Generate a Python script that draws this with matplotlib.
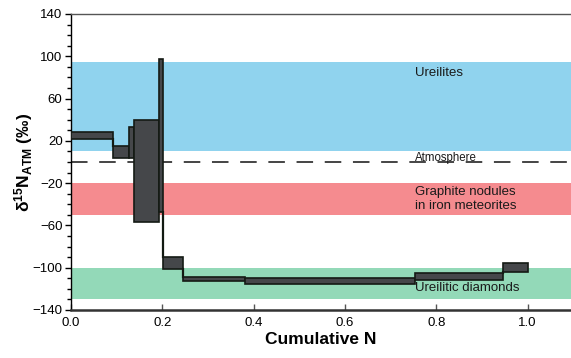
import matplotlib as mpl
mpl.use('agg')
import matplotlib.pyplot as plt
from matplotlib.patches import Rectangle
import numpy as np

plt.rcParams['font.family'] = ['Liberation Sans', 'DejaVu Sans']
plt.rcParams['mathtext.fontset'] = 'custom'
plt.rcParams['mathtext.rm'] = 'Liberation Sans'
plt.rcParams['mathtext.bf'] = 'Liberation Sans:bold'

# cumulative N step edges and the delta15N range of each step
x_edges = [0.0, 0.093, 0.128, 0.138, 0.193, 0.202, 0.245, 0.381, 0.753, 0.946, 1.0]
y_low = [22, 3.5, 4, -56.5, -47, -101, -113, -115.5, -112, -104]
y_high = [28, 15, 33.5, 39.5, 97.5, -90, -109, -110, -105, -96]

# reference fields
bands = [(10, 95, '#90d3ee'), (-50, -20, '#f58b8f'), (-130, -100, '#93d9b8')]
labels = [(0.753, 84, 'Ureilites', 9.5),
          (0.753, 4, 'Atmosphere', 8.3),
          (0.753, -35, 'Graphite nodules\nin iron meteorites', 9.5),
          (0.753, -119, 'Ureilitic diamonds', 9.5)]

fig = plt.figure(figsize=(5.71, 3.58), dpi=100)
ax = fig.add_axes([0.1242, 0.1341, 0.8758, 0.8268])

for lo, hi, c in bands:
    ax.axhspan(lo, hi, color=c, lw=0, zorder=0)
ax.axhline(0, color='#444444', lw=1.4, dashes=[8.5, 6], zorder=1)

for x, y, s, fs in labels:
    ax.text(x, y, s, fontsize=fs, ha='left', va='center', color='#1a1a1a',
            linespacing=1.25, zorder=5)

# vertical connectors where successive steps do not overlap
for i in range(len(y_low) - 1):
    xb = x_edges[i + 1]
    lo = max(y_low[i], y_low[i + 1])
    hi = min(y_high[i], y_high[i + 1])
    if lo > hi:
        ax.plot([xb, xb], [hi, lo], color='#121a12', lw=1.6, zorder=2)

for i in range(len(y_low)):
    ax.add_patch(Rectangle((x_edges[i], y_low[i]), x_edges[i + 1] - x_edges[i],
                           y_high[i] - y_low[i], facecolor='#45474a',
                           edgecolor='#141a14', lw=1.2, zorder=3))

ax.set_xlim(0, 1.095)
ax.set_ylim(-140, 140)
ax.set_xticks(np.arange(0, 1.01, 0.2))
ax.set_xticklabels(['0.0', '0.2', '0.4', '0.6', '0.8', '1.0'])
ax.set_yticks(np.arange(-140, 141, 40))
ax.set_yticks(np.arange(-140, 141, 10), minor=True)
ax.tick_params(axis='x', direction='in', length=4, width=1, color='#555555',
               labelsize=9.5, pad=5)
ax.tick_params(axis='y', which='major', direction='out', length=4, width=1,
               labelsize=9.5, pad=2)
ax.tick_params(axis='y', which='minor', direction='out', length=3, width=1)

ax.spines['right'].set_visible(False)
ax.spines['top'].set_color('#555555')
ax.spines['top'].set_linewidth(1.0)
ax.spines['bottom'].set_linewidth(1.8)
ax.spines['bottom'].set_color('#333333')
ax.spines['left'].set_linewidth(1.0)

ax.set_xlabel('Cumulative N', fontsize=12.5, fontweight='bold', labelpad=2)
ax.set_ylabel(r'$\mathbf{\delta^{15}N_{ATM}}$ (‰)', fontsize=12.5,
              fontweight='bold')
ax.yaxis.set_label_coords(-0.072, 0.5)

fig.savefig('out.png', dpi=100)
